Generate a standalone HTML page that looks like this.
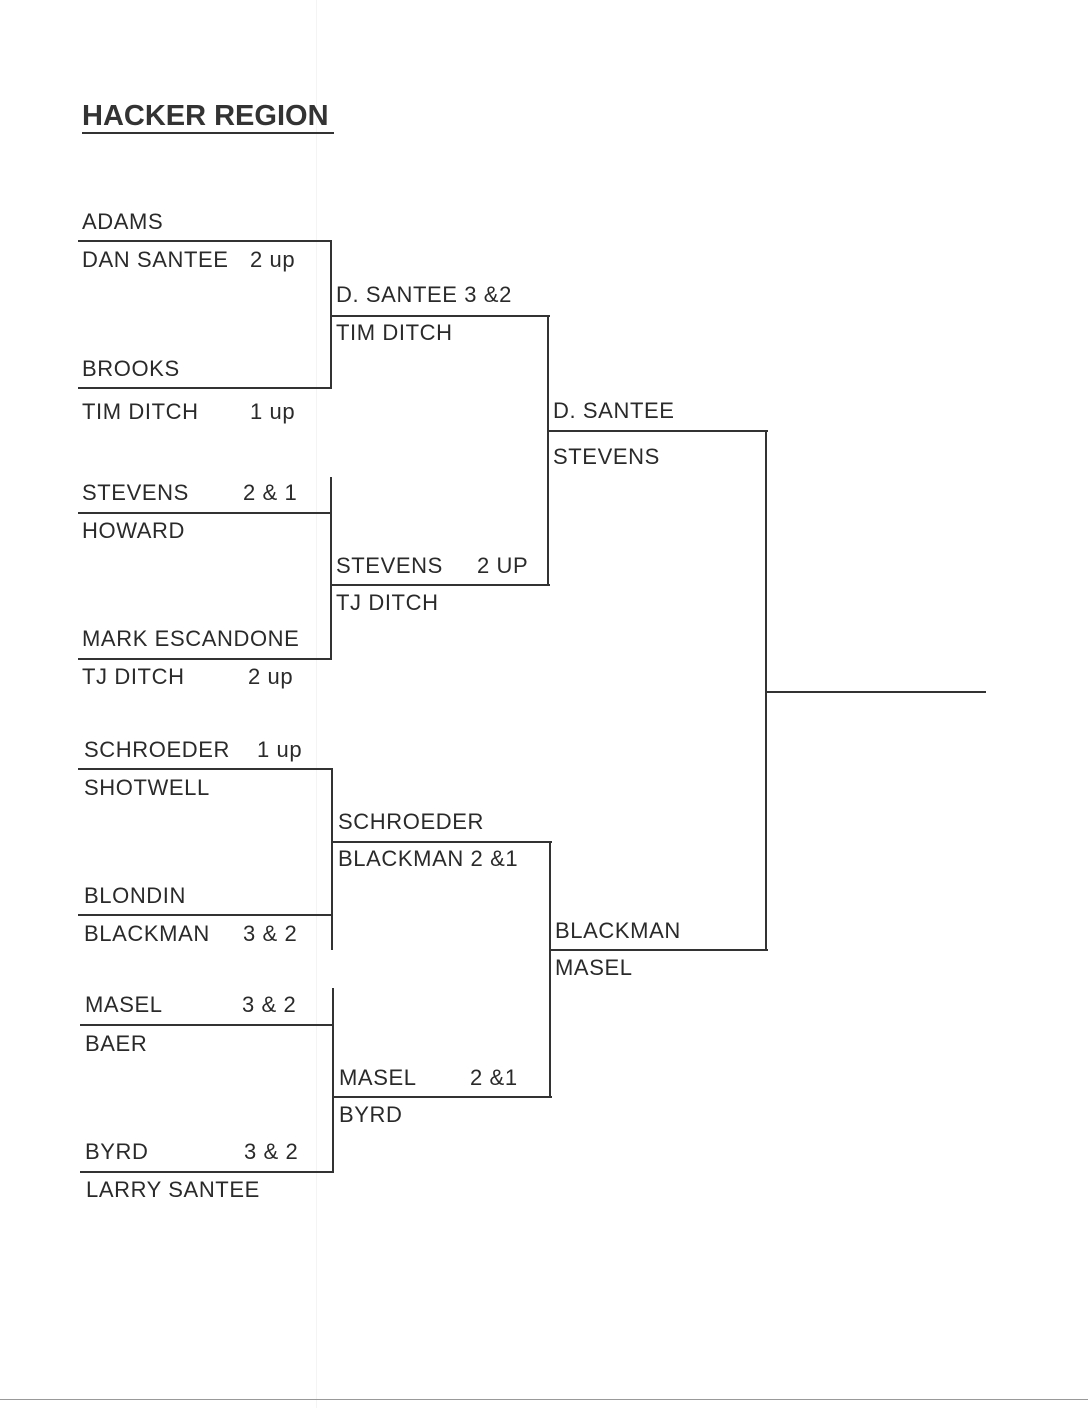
<!DOCTYPE html>
<html><head><meta charset="utf-8"><style>
body{margin:0;width:1088px;height:1408px;background:#fff;position:relative;overflow:hidden;font-family:"Liberation Sans",sans-serif;color:#2a2a2a}
.t{position:absolute;font-size:22px;letter-spacing:0.6px;line-height:24px;white-space:nowrap;transform:translateY(-12px)}
.h{position:absolute;height:2px;background:#333}
.v{position:absolute;width:2px;background:#333}
</style></head><body>
<div style="position:absolute;left:316px;top:0;width:1px;height:1408px;background:#f4f4f4;z-index:0"></div>
<div style="position:absolute;left:82px;top:100px;font-size:29px;font-weight:bold;color:#333;line-height:32px;z-index:1">HACKER REGION</div>
<div class="h" style="left:82px;top:132px;width:252px"></div>
<div class="h" style="left:0;top:1399px;width:1088px;background:#999;height:1px"></div>

<!-- R1 lines -->
<div class="h" style="left:78px;top:240px;width:254px"></div>
<div class="v" style="left:330px;top:240px;height:149px"></div>
<div class="h" style="left:78px;top:387px;width:254px"></div>
<div class="h" style="left:78px;top:512px;width:254px"></div>
<div class="v" style="left:330px;top:477px;height:183px"></div>
<div class="h" style="left:78px;top:658px;width:254px"></div>
<div class="h" style="left:78px;top:768px;width:255px"></div>
<div class="v" style="left:331px;top:768px;height:182px"></div>
<div class="h" style="left:78px;top:914px;width:255px"></div>
<div class="h" style="left:80px;top:1024px;width:254px"></div>
<div class="v" style="left:332px;top:988px;height:185px"></div>
<div class="h" style="left:80px;top:1171px;width:254px"></div>
<!-- R2 -->
<div class="h" style="left:331px;top:315px;width:219px"></div>
<div class="v" style="left:547px;top:315px;height:271px"></div>
<div class="h" style="left:331px;top:584px;width:219px"></div>
<div class="h" style="left:332px;top:841px;width:220px"></div>
<div class="v" style="left:549px;top:841px;height:257px"></div>
<div class="h" style="left:332px;top:1096px;width:220px"></div>
<!-- R3 -->
<div class="h" style="left:548px;top:430px;width:220px"></div>
<div class="v" style="left:765px;top:430px;height:521px"></div>
<div class="h" style="left:550px;top:949px;width:218px"></div>
<div class="h" style="left:766px;top:691px;width:220px"></div>

<!-- text R1 -->
<div class="t" style="left:82px;top:222px">ADAMS</div>
<div class="t" style="left:82px;top:260px">DAN SANTEE</div><div class="t" style="left:250px;top:260px">2 up</div>
<div class="t" style="left:82px;top:369px">BROOKS</div>
<div class="t" style="left:82px;top:412px">TIM DITCH</div><div class="t" style="left:250px;top:412px">1 up</div>
<div class="t" style="left:82px;top:493px">STEVENS</div><div class="t" style="left:243px;top:493px">2 &amp; 1</div>
<div class="t" style="left:82px;top:531px">HOWARD</div>
<div class="t" style="left:82px;top:639px">MARK ESCANDONE</div>
<div class="t" style="left:82px;top:677px">TJ DITCH</div><div class="t" style="left:248px;top:677px">2 up</div>
<div class="t" style="left:84px;top:750px">SCHROEDER</div><div class="t" style="left:257px;top:750px">1 up</div>
<div class="t" style="left:84px;top:788px">SHOTWELL</div>
<div class="t" style="left:84px;top:896px">BLONDIN</div>
<div class="t" style="left:84px;top:934px">BLACKMAN</div><div class="t" style="left:243px;top:934px">3 &amp; 2</div>
<div class="t" style="left:85px;top:1005px">MASEL</div><div class="t" style="left:242px;top:1005px">3 &amp; 2</div>
<div class="t" style="left:85px;top:1044px">BAER</div>
<div class="t" style="left:85px;top:1152px">BYRD</div><div class="t" style="left:244px;top:1152px">3 &amp; 2</div>
<div class="t" style="left:86px;top:1190px">LARRY SANTEE</div>
<!-- R2 -->
<div class="t" style="left:336px;top:295px">D. SANTEE 3 &amp;2</div>
<div class="t" style="left:336px;top:333px">TIM DITCH</div>
<div class="t" style="left:336px;top:566px">STEVENS</div><div class="t" style="left:477px;top:566px">2 UP</div>
<div class="t" style="left:336px;top:603px">TJ DITCH</div>
<div class="t" style="left:338px;top:822px">SCHROEDER</div>
<div class="t" style="left:338px;top:859px">BLACKMAN 2 &amp;1</div>
<div class="t" style="left:339px;top:1078px">MASEL</div><div class="t" style="left:470px;top:1078px">2 &amp;1</div>
<div class="t" style="left:339px;top:1115px">BYRD</div>
<!-- R3 -->
<div class="t" style="left:553px;top:411px">D. SANTEE</div>
<div class="t" style="left:553px;top:457px">STEVENS</div>
<div class="t" style="left:555px;top:931px">BLACKMAN</div>
<div class="t" style="left:555px;top:968px">MASEL</div>
</body></html>
